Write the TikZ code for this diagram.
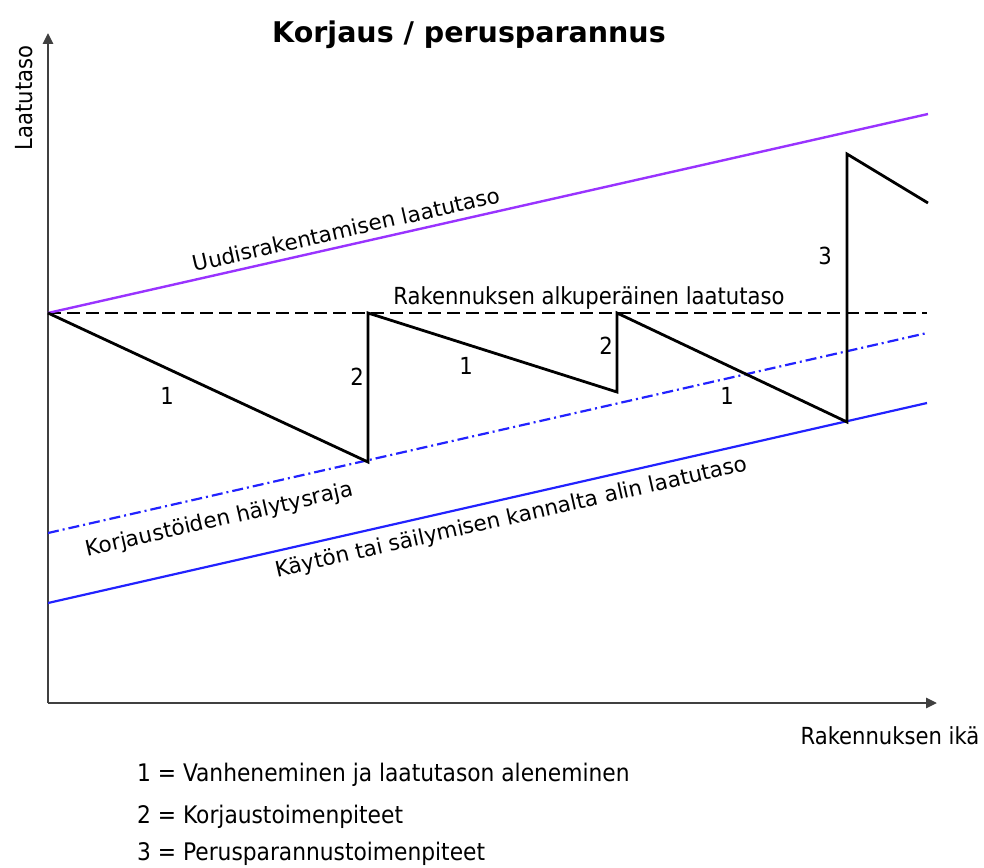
\documentclass[tikz,border=0pt]{standalone}
\usepackage{fontspec}
\setmainfont{DejaVu Sans}
\newfontfamily\condfont{DejaVu Sans Condensed}
\usetikzlibrary{arrows.meta}
\definecolor{newcol}{RGB}{153,51,255}
\definecolor{limcol}{RGB}{34,34,255}
\definecolor{axiscol}{RGB}{64,64,64}

\begin{document}
\begin{tikzpicture}[x=1pt,y=-1pt,
  axis/.style={line width=2.6pt,draw=axiscol,-{Triangle[length=11pt,width=10pt]}},
  saw/.style={line width=2.8pt,line join=miter},
  lbl/.style={inner sep=0pt,font=\condfont\fontsize{23.5}{28}\selectfont},
  leglbl/.style={inner sep=0pt,anchor=base west,font=\condfont\fontsize{24.2}{28}\selectfont},
  slopelbl/.style={inner sep=0pt,anchor=base,rotate=12.8,font=\fontsize{21.5}{26}\selectfont}]
\useasboundingbox (0,0) rectangle (984,867);
\coordinate[] (O) at (48,703);
\coordinate[] (Y) at (48,33);
\coordinate[] (X) at (937,703);
\coordinate[] (A) at (48,313);
\coordinate[] (A1) at (927,313);
\coordinate[] (N) at (928,114);
\coordinate[] (H0) at (48,533);
\coordinate[] (H1) at (927,333);
\coordinate[] (K0) at (48,603);
\coordinate[] (K1) at (927,403);
\coordinate[] (B) at (368,462);
\coordinate[] (C) at (368,313);
\coordinate[] (D) at (617,392);
\coordinate[] (E) at (617,313);
\coordinate[] (F) at (847,422);
\coordinate[] (G) at (847,154);
\coordinate[] (I) at (928,203);

% axes
\draw [axis] (O) -- (Y);
\draw [axis] (O) -- (X);

% levels
\draw [line width=2pt,dash pattern=on 13pt off 6pt] (A) -- (A1);
\draw [line width=2.4pt,newcol] (A) -- (N);
\draw [line width=2.2pt,limcol,dash pattern=on 11pt off 4pt on 2pt off 4pt] (H0) -- (H1);
\draw [line width=2.2pt,limcol] (K0) -- (K1);

% quality curve
\draw [saw] (A) -- (B) -- (C) -- (D) -- (E) -- (F) -- (G) -- (I);

\node[font=\bfseries\fontsize{28.5}{34}\selectfont,anchor=base,inner sep=0pt] (title) at (469,42) {Korjaus / perusparannus};
\node[lbl,anchor=base,rotate=90] (ylbl) at (32,98) {Laatutaso};
\node[lbl,anchor=base] (xlbl) at (890,744) {Rakennuksen ikä};
\node[lbl,anchor=base] (origlbl) at (589,304) {Rakennuksen alkuperäinen laatutaso};
\node[slopelbl] (newlbl) at (348,237) {Uudisrakentamisen laatutaso};
\node[slopelbl] (alarmlbl) at (221,526) {Korjaustöiden hälytysraja};
\node[slopelbl] (minlbl) at (513,524) {Käytön tai säilymisen kannalta alin laatutaso};

\node[lbl] (n1a) at (167,396) {1};
\node[lbl] (n2a) at (357,377) {2};
\node[lbl] (n1b) at (466,366) {1};
\node[lbl] (n2b) at (606,346) {2};
\node[lbl] (n1c) at (727,396) {1};
\node[lbl] (n3) at (825,256) {3};

\node[leglbl] (leg1) at (137,781) {1 = Vanheneminen ja laatutason aleneminen};
\node[leglbl] (leg2) at (137,823) {2 = Korjaustoimenpiteet};
\node[leglbl] (leg3) at (137,860) {3 = Perusparannustoimenpiteet};
\end{tikzpicture}
\end{document}
